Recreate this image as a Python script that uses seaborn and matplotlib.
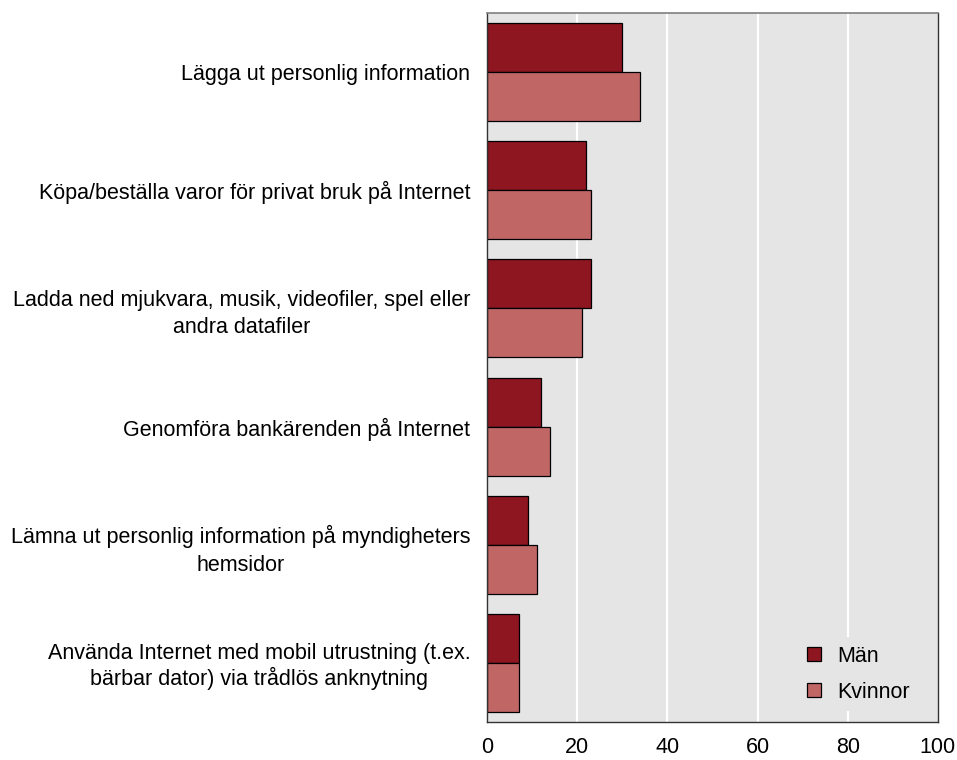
import matplotlib
matplotlib.use("Agg")
import matplotlib.pyplot as plt
import pandas as pd
import seaborn as sns

categories = [
    "Lägga ut personlig information",
    "Köpa/beställa varor för privat bruk på Internet",
    "Ladda ned mjukvara, musik, videofiler, spel eller\nandra datafiler",
    "Genomföra bankärenden på Internet",
    "Lämna ut personlig information på myndigheters\nhemsidor",
    "Använda Internet med mobil utrustning (t.ex.\nbärbar dator) via trådlös anknytning",
]
man = [30, 22, 23, 12, 9, 7]
kvinnor = [34, 23, 21, 14, 11, 7]
series = ["Män", "Kvinnor"]
colors = ["#8E1620", "#C06766"]
xticks = [0, 20, 40, 60, 80, 100]

df = pd.DataFrame({
    "kategori": categories * 2,
    "andel": man + kvinnor,
    "kon": [series[0]] * len(categories) + [series[1]] * len(categories),
})

sns.set_style("white")
plt.rcParams["font.family"] = ["Liberation Sans", "DejaVu Sans"]

fig = plt.figure(figsize=(9.57, 7.6), dpi=100)
ax = fig.add_axes([0.509, 0.05, 0.471, 0.933])
ax.set_facecolor("#E5E5E5")

sns.barplot(data=df, x="andel", y="kategori", hue="kon", order=categories,
            hue_order=series, palette=colors, saturation=1, orient="h",
            width=0.83, edgecolor="black", linewidth=0.9, ax=ax)

ax.set_xlim(0, 100)
ax.set_xticks(xticks)
for v in xticks[1:-1]:
    ax.axvline(v, color="white", lw=1.6, zorder=0)

ax.set_xlabel("")
ax.set_ylabel("")
ax.tick_params(axis="x", length=5, width=1, color="#333333", labelsize=15.5,
               pad=6, labelcolor="black")
ax.tick_params(axis="y", length=0, labelsize=15.5, pad=12, labelcolor="black")
for lab in ax.get_yticklabels():
    lab.set_multialignment("center")
    # tall glyphs (å, parentheses) stretch matplotlib's line gap, so tighten there
    lab.set_linespacing(1.15 if "trådlös" in lab.get_text() else 1.4)

for s in ["left", "bottom", "right"]:
    ax.spines[s].set_color("#333333")
    ax.spines[s].set_linewidth(1)
ax.spines["top"].set_color("#808080")
ax.spines["top"].set_linewidth(1.2)

leg = ax.legend(loc="lower right", bbox_to_anchor=(0.98, 0.0), fontsize=15.5,
                handlelength=0.65, handleheight=0.65, handletextpad=0.75,
                labelspacing=0.7, frameon=True)
leg.get_frame().set_facecolor("#E5E5E5")
leg.get_frame().set_edgecolor("none")
leg.get_frame().set_alpha(1)
for t in leg.get_texts():
    t.set_color("black")

fig.savefig("out.png", dpi=100)
